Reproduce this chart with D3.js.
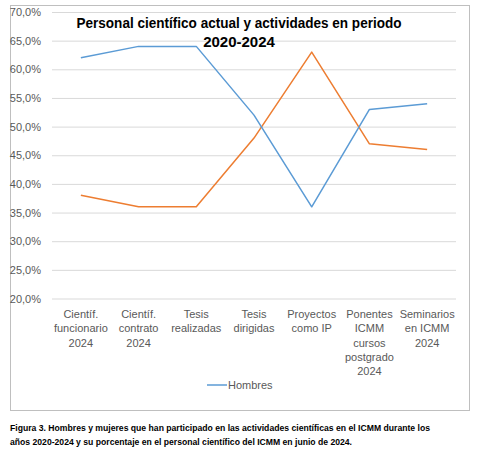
<!DOCTYPE html>
<html>
<head>
<meta charset="utf-8">
<script src="https://cdn.jsdelivr.net/npm/d3@7"></script>
<style>
  html, body { margin: 0; padding: 0; background: #fff; }
  svg { display: block; }
</style>
</head>
<body>
<div id="chart"></div>
<script>
// ---- data ----
const categories = [
  "Científ.\nfuncionario\n2024",
  "Científ.\ncontrato\n2024",
  "Tesis\nrealizadas",
  "Tesis\ndirigidas",
  "Proyectos\ncomo IP",
  "Ponentes\nICMM\ncursos\npostgrado\n2024",
  "Seminarios\nen ICMM\n2024"
];
const hombres = [0.62, 0.64, 0.64, 0.52, 0.36, 0.53, 0.54];
const mujeres = [0.38, 0.36, 0.36, 0.48, 0.63, 0.47, 0.46];
const yTicks = [0.20, 0.25, 0.30, 0.35, 0.40, 0.45, 0.50, 0.55, 0.60, 0.65, 0.70];
const titleLines = ["Personal científico actual y actividades en periodo", "2020-2024"];
const legendLabel = "Hombres";
const captionLines = [
  "Figura 3. Hombres y mujeres que han participado en las actividades científicas en el ICMM durante los",
  "años 2020-2024 y su porcentaje en el personal científico del ICMM en junio de 2024."
];

// ---- layout ----
const W = 480, H = 458;
const plot = { left: 52, right: 456, top: 12, bottom: 298.5 };
const font = "'Liberation Sans', Arial, sans-serif";
const textGray = "#595959";

const svg = d3.select("#chart").append("svg")
  .attr("width", W).attr("height", H)
  .style("font-family", font);

svg.append("rect").attr("x", 0).attr("y", 0).attr("width", W).attr("height", H).attr("fill", "#fff");

// chart border
svg.append("rect")
  .attr("x", 10.5).attr("y", 5.5).attr("width", 459).attr("height", 405)
  .attr("fill", "none").attr("stroke", "#bfbfbf").attr("stroke-width", 1);

const x = d3.scaleBand().domain(categories).range([plot.left, plot.right]).padding(0);
const y = d3.scaleLinear().domain([0.2, 0.7]).range([plot.bottom, plot.top]);
const cx = c => x(c) + x.bandwidth() / 2;

// y axis with gridlines
const fmt = d => d3.format(".1f")(d * 100).replace(".", ",") + "%";
const yAxis = svg.append("g")
  .attr("transform", `translate(${plot.left},0)`)
  .call(d3.axisLeft(y).tickValues(yTicks).tickFormat(fmt)
    .tickSize(-(plot.right - plot.left)).tickPadding(11));
yAxis.select(".domain").remove();
yAxis.selectAll(".tick line").attr("stroke", "#d9d9d9").attr("stroke-width", 1);
yAxis.selectAll(".tick text")
  .attr("fill", textGray).style("font-size", "11px").style("font-family", font);

// x category labels
const xg = svg.append("g");
categories.forEach(c => {
  const lines = c.split("\n");
  const t = xg.append("text")
    .attr("text-anchor", "middle")
    .attr("fill", textGray)
    .style("font-size", "11px");
  lines.forEach((ln, i) => {
    t.append("tspan").attr("x", cx(c)).attr("y", 318 + i * 14.3).text(ln);
  });
});

// lines
const line = d3.line().x((d, i) => cx(categories[i])).y(d => y(d));
svg.append("path").datum(mujeres)
  .attr("d", line).attr("fill", "none")
  .attr("stroke", "#ED7D31").attr("stroke-width", 1.5).attr("stroke-linejoin", "round");
svg.append("path").datum(hombres)
  .attr("d", line).attr("fill", "none")
  .attr("stroke", "#5B9BD5").attr("stroke-width", 1.5).attr("stroke-linejoin", "round");

// title
svg.append("text")
  .attr("x", 239).attr("y", 28)
  .attr("text-anchor", "middle")
  .attr("textLength", 325).attr("lengthAdjust", "spacingAndGlyphs")
  .style("font-size", "15px").style("font-weight", "bold").attr("fill", "#000")
  .text(titleLines[0]);
svg.append("text")
  .attr("x", 239).attr("y", 47)
  .attr("text-anchor", "middle")
  .style("font-size", "15px").style("font-weight", "bold").attr("fill", "#000")
  .text(titleLines[1]);

// legend
svg.append("line")
  .attr("x1", 207).attr("x2", 227).attr("y1", 385).attr("y2", 385)
  .attr("stroke", "#5B9BD5").attr("stroke-width", 1.5);
svg.append("text")
  .attr("x", 228).attr("y", 389)
  .attr("fill", textGray).style("font-size", "11px")
  .text(legendLabel);

// caption
svg.append("text")
  .attr("x", 10).attr("y", 431)
  .attr("textLength", 420).attr("lengthAdjust", "spacingAndGlyphs")
  .style("font-size", "9px").style("font-weight", "bold").attr("fill", "#000")
  .text(captionLines[0]);
svg.append("text")
  .attr("x", 10).attr("y", 445)
  .attr("textLength", 342).attr("lengthAdjust", "spacingAndGlyphs")
  .style("font-size", "9px").style("font-weight", "bold").attr("fill", "#000")
  .text(captionLines[1]);
</script>
</body>
</html>
